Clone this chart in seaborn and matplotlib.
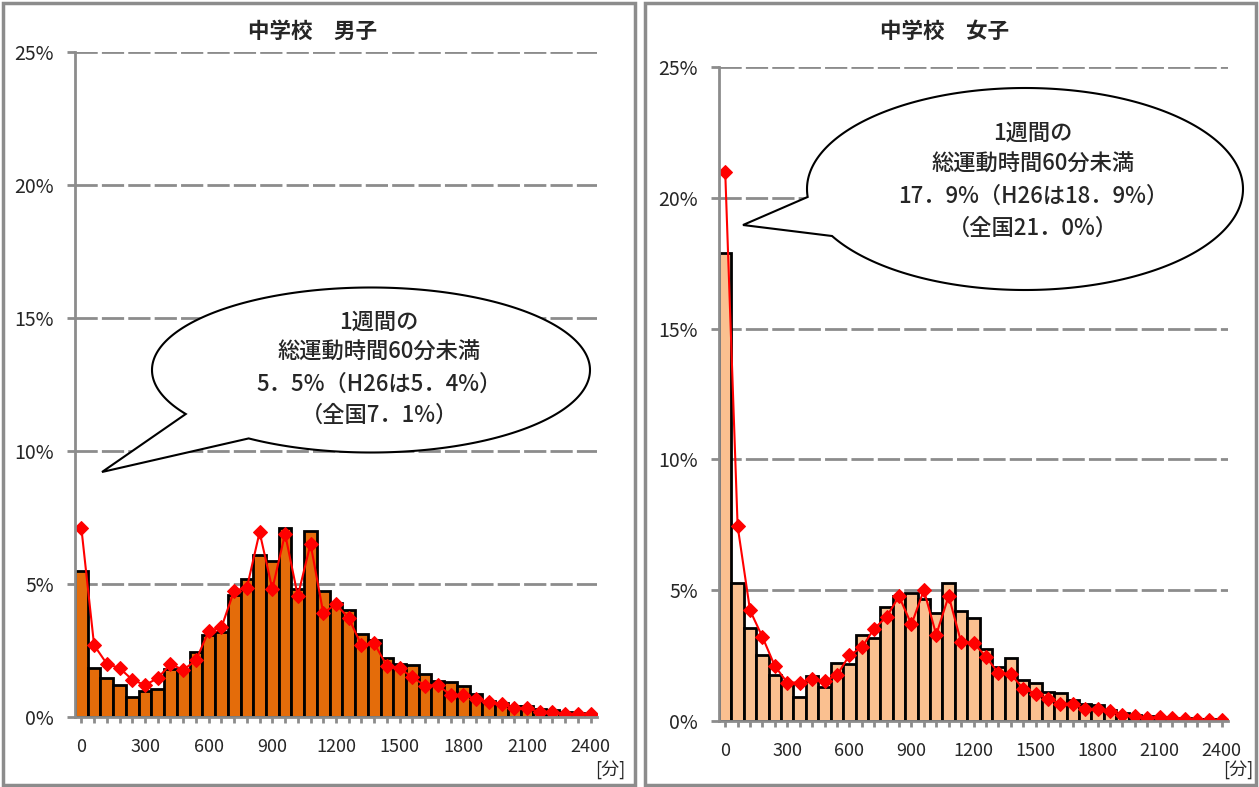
import numpy as np
import matplotlib
matplotlib.use("Agg")
import matplotlib.pyplot as plt
import seaborn as sns
from matplotlib.patches import Polygon, Rectangle
from matplotlib.ticker import MultipleLocator, FuncFormatter

# 1週間の総運動時間 [分] (60分刻み)
minutes = list(range(0, 2401, 60))

boys_pref = [5.5, 1.86, 1.45, 1.2, 0.75, 0.96, 1.05, 1.8, 1.75, 2.46, 3.1, 3.2, 4.6, 5.2,
             6.1, 5.85, 7.1, 4.8, 7.0, 4.72, 4.28, 4.03, 3.13, 2.9, 2.23, 2.0, 1.96, 1.61,
             1.36, 1.3, 1.18, 0.87, 0.62, 0.53, 0.43, 0.4, 0.29, 0.25, 0.19, 0.15, 0.12]
boys_nat = [7.1, 2.7, 2.0, 1.84, 1.4, 1.2, 1.46, 1.99, 1.77, 2.13, 3.23, 3.37, 4.75, 4.86,
            6.95, 4.81, 6.89, 4.55, 6.51, 3.91, 4.24, 3.72, 2.7, 2.77, 1.92, 1.84, 1.49,
            1.18, 1.2, 0.83, 0.83, 0.68, 0.56, 0.5, 0.33, 0.33, 0.19, 0.19, 0.12, 0.12, 0.12]

girls_pref = [17.9, 5.29, 3.56, 2.51, 1.75, 1.43, 0.92, 1.72, 1.3, 2.22, 2.19, 3.28, 3.19, 4.34,
              4.77, 4.9, 4.66, 4.11, 5.29, 4.21, 3.92, 2.77, 2.07, 2.39, 1.58, 1.45, 1.11,
              1.08, 0.82, 0.66, 0.6, 0.41, 0.32, 0.24, 0.19, 0.15, 0.13, 0.1, 0.08, 0.06, 0.05]
girls_nat = [21.0, 7.45, 4.23, 3.21, 2.1, 1.47, 1.47, 1.62, 1.53, 1.75, 2.51, 2.81, 3.53, 3.98,
             4.77, 3.69, 5.0, 3.3, 4.78, 3.02, 3.0, 2.45, 1.84, 1.79, 1.24, 1.05, 0.85,
             0.66, 0.66, 0.45, 0.45, 0.37, 0.22, 0.18, 0.13, 0.15, 0.13, 0.09, 0.03, 0.03, 0.03]

titles = ["中学校　男子", "中学校　女子"]
bar_colors = ["#E46C0A", "#FAC090"]
notes = [["1週間の", "総運動時間60分未満", "5．5%（H26は5．4%）", "（全国7．1%）"],
         ["1週間の", "総運動時間60分未満", "17．9%（H26は18．9%）", "（全国21．0%）"]]

sns.set_style("white")
plt.rcParams["font.family"] = ["Noto Sans CJK JP", "DejaVu Sans"]

W, H = 1259, 787
fig = plt.figure(figsize=(W / 100, H / 100), dpi=100)


def px(x, y):
    # pixel (top-left origin) -> figure fraction
    return x / W, 1 - y / H


def draw_panel(rect, pref, nat, color):
    ax = fig.add_axes(rect)
    sns.barplot(x=minutes, y=pref, native_scale=True, width=1.0, color=color,
                edgecolor="black", linewidth=2, saturation=1, errorbar=None, ax=ax, zorder=2)
    sns.lineplot(x=minutes, y=nat, color="#FF0000", marker="D", markersize=7.5,
                 markeredgecolor="#FF0000", linewidth=1.5, ax=ax, zorder=3)
    ax.set_xlim(-30, 2430)
    ax.set_ylim(0, 25)
    ax.yaxis.set_major_locator(MultipleLocator(5))
    ax.yaxis.set_major_formatter(FuncFormatter(lambda v, p: f"{v:.0f}%"))
    ax.xaxis.set_major_locator(MultipleLocator(300))
    ax.xaxis.set_minor_locator(MultipleLocator(60))
    ax.xaxis.set_major_formatter(FuncFormatter(lambda v, p: f"{v:.0f}"))
    ax.grid(False)
    for v in range(5, 26, 5):
        ax.axhline(v, color="#8C8C8C", linewidth=2, linestyle=(0, (8, 1.5)), zorder=1)
    for s in ["top", "right"]:
        ax.spines[s].set_visible(False)
    for s in ["left", "bottom"]:
        ax.spines[s].set_color("#8C8C8C")
        ax.spines[s].set_linewidth(2)
        ax.spines[s].set_zorder(4)
    ax.tick_params(axis="y", which="major", length=6, width=2, color="#8C8C8C",
                   labelsize=14, pad=9, left=True)
    ax.tick_params(axis="x", which="both", length=4, width=2, color="#8C8C8C",
                   labelsize=13, pad=11, bottom=True)
    ax.set_xlabel("")
    ax.set_ylabel("")
    return ax


def callout(center, w, h, tip, base_a, base_b, lines, text_y):
    cx, cy = center
    a, b = w / 2, h / 2
    ta = np.arctan2((base_a[1] - cy) / b, (base_a[0] - cx) / a)
    tb = np.arctan2((base_b[1] - cy) / b, (base_b[0] - cx) / a)
    # pick the long arc between the two tail base points
    start, end = ta, tb
    while end <= start:
        end += 2 * np.pi
    if end - start < np.pi:
        start, end = tb, ta
        while end <= start:
            end += 2 * np.pi
    t = np.linspace(start, end, 300)
    pts = [px(cx + a * np.cos(tt), cy + b * np.sin(tt)) for tt in t]
    pts.append(px(*tip))
    fig.patches.append(Polygon(pts, closed=True, facecolor="white", edgecolor="black",
                               linewidth=1.5, transform=fig.transFigure, zorder=10))
    for line, yy in zip(lines, text_y):
        fig.text(*px(cx + 8, yy), line, ha="center", va="center", fontsize=16,
                 fontweight="medium", zorder=11)


# panel frames
fig.patches.append(Rectangle(px(3, 785), 632 / W, 782 / H, transform=fig.transFigure,
                             fill=False, edgecolor="#8C8C8C", linewidth=2.5))
fig.patches.append(Rectangle(px(645, 785), 611 / W, 782 / H, transform=fig.transFigure,
                             fill=False, edgecolor="#8C8C8C", linewidth=2.5))

ax1 = draw_panel([75 / W, 1 - 717 / H, 522 / W, 665 / H], boys_pref, boys_nat, bar_colors[0])
ax2 = draw_panel([719 / W, 1 - 721 / H, 509 / W, 654 / H], girls_pref, girls_nat, bar_colors[1])

fig.text(*px(313, 31), titles[0], ha="center", va="center", fontsize=15.5, fontweight="bold")
fig.text(*px(945, 31), titles[1], ha="center", va="center", fontsize=15.5, fontweight="bold")
fig.text(*px(610, 770), "[分]", ha="center", va="center", fontsize=13)
fig.text(*px(1238, 770), "[分]", ha="center", va="center", fontsize=13)

callout((371, 370), 438, 165, (102, 472), (190, 413), (253, 436), notes[0],
        [322, 352, 384, 415])
callout((1025, 189), 436, 202, (743, 225), (807, 197), (828, 237), notes[1],
        [133, 164, 196, 228])

fig.savefig("out.png", dpi=100)
